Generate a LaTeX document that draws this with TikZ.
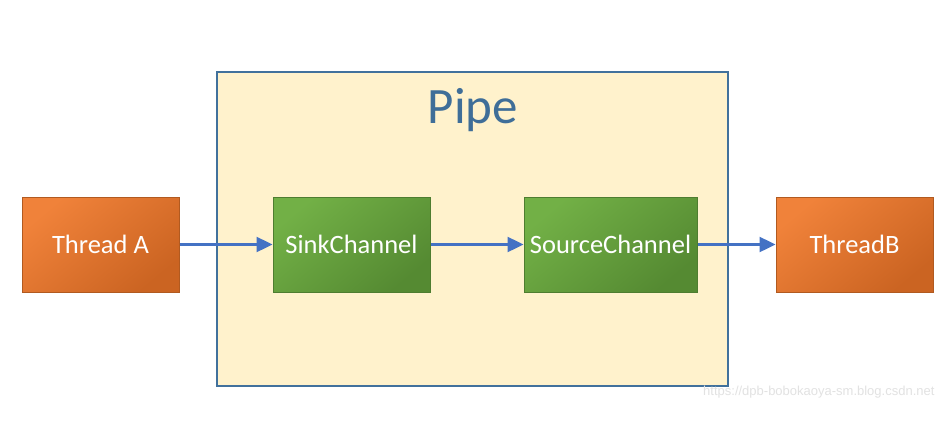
\documentclass[tikz,border=0pt]{standalone}
\usepackage{fontspec}
\setmainfont{Carlito}
\newfontfamily\wmfont{Liberation Sans}
\usetikzlibrary{arrows.meta}
\definecolor{orgA}{HTML}{F0823A}
\definecolor{orgB}{HTML}{CB6422}
\definecolor{orgLine}{HTML}{B15A20}
\definecolor{grnA}{HTML}{72B046}
\definecolor{grnB}{HTML}{558A32}
\definecolor{grnLine}{HTML}{4E7D30}
\definecolor{pipeFill}{HTML}{FFF2CC}
\definecolor{pipeLine}{HTML}{41719C}
\definecolor{pipeText}{HTML}{3F6E98}
\definecolor{arrowBlue}{HTML}{4472C4}
\definecolor{wmGray}{HTML}{E2E2E2}
\tikzset{
  boxbase/.style={draw, line width=1pt, minimum width=157pt, minimum height=95pt,
    inner sep=0pt, text=white, font=\fontsize{26.5}{30}\selectfont},
  threadbox/.style={boxbase, top color=orgA, bottom color=orgB, shading angle=40, draw=orgLine},
  chanbox/.style={boxbase, top color=grnA, bottom color=grnB, shading angle=40, draw=grnLine},
  pipebox/.style={draw=pipeLine, fill=pipeFill, line width=1.5pt},
  conn/.style={draw=arrowBlue, line width=2.4pt, -{Triangle[length=16pt,width=15pt]}}
}
\begin{document}
\begin{tikzpicture}[x=1pt,y=-1pt]
\useasboundingbox[fill=white] (0,0) rectangle (952,431);
\draw[pipebox] (217,72) rectangle (728,386);
\node[text=pipeText, font=\fontsize{51}{60}\selectfont] (pipe) at (473,110) {Pipe};
\node[threadbox, minimum width=157pt] (ta) at (100.5,244.5) {Thread A};
\node[chanbox, minimum width=157pt] (sink) at (351.5,244.5) {SinkChannel};
\node[chanbox, minimum width=173pt] (src) at (610.5,244.5) {SourceChannel};
\node[threadbox, minimum width=157pt] (tb) at (854.5,244.5) {ThreadB};
\draw[conn] (ta.east) -- (sink.west);
\draw[conn] (sink.east) -- (src.west);
\draw[conn] (src.east) -- (tb.west);
\node[anchor=west, text=wmGray, font=\wmfont\fontsize{13}{15}\selectfont, inner sep=0pt] (wm) at (703,392) {https://dpb-bobokaoya-sm.blog.csdn.net};
\end{tikzpicture}
\end{document}
